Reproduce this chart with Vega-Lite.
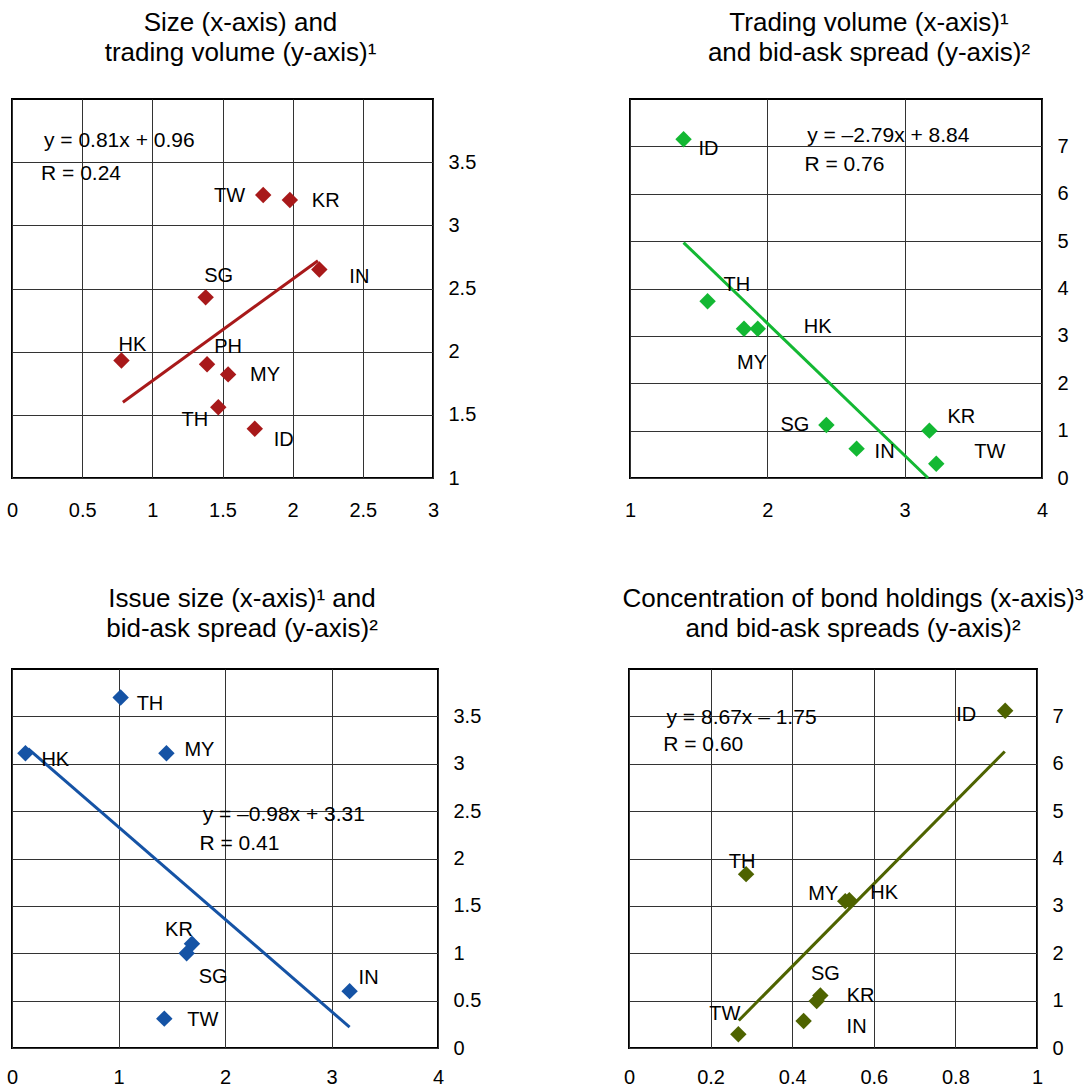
{
  "$schema": "https://vega.github.io/schema/vega-lite/v6.json",
  "padding": {"left": 5, "top": 9, "right": 5, "bottom": 5},
  "spacing": 64,
  "datasets": {
    "p1": [
      {"c": "TW", "x": 1.79, "y": 3.24},
      {"c": "KR", "x": 1.98, "y": 3.2},
      {"c": "IN", "x": 2.19, "y": 2.65},
      {"c": "SG", "x": 1.38, "y": 2.43},
      {"c": "HK", "x": 0.78, "y": 1.93},
      {"c": "PH", "x": 1.39, "y": 1.9},
      {"c": "MY", "x": 1.54, "y": 1.82},
      {"c": "TH", "x": 1.47, "y": 1.56},
      {"c": "ID", "x": 1.73, "y": 1.39}
    ],
    "l1": [{"x": 0.79, "y": 1.6}, {"x": 2.18, "y": 2.72}],
    "a1": [{"t": "y = 0.81x + 0.96", "x": 0.228, "y": 3.67}, {"t": "R = 0.24", "x": 0.207, "y": 3.41}],
    "p2": [
      {"c": "ID", "x": 1.39, "y": 7.15},
      {"c": "TH", "x": 1.565, "y": 3.73},
      {"c": "MY", "x": 1.83, "y": 3.15},
      {"c": "HK", "x": 1.93, "y": 3.15},
      {"c": "SG", "x": 2.43, "y": 1.12},
      {"c": "IN", "x": 2.65, "y": 0.62},
      {"c": "KR", "x": 3.18, "y": 1.0},
      {"c": "TW", "x": 3.23, "y": 0.3}
    ],
    "l2": [{"x": 1.39, "y": 4.97}, {"x": 3.17, "y": 0.0}],
    "a2": [{"t": "y = –2.79x + 8.84", "x": 2.29, "y": 7.21}, {"t": "R = 0.76", "x": 2.27, "y": 6.61}],
    "p3": [
      {"c": "TH", "x": 1.02, "y": 3.7},
      {"c": "HK", "x": 0.126, "y": 3.11},
      {"c": "MY", "x": 1.45, "y": 3.11},
      {"c": "KR", "x": 1.69, "y": 1.1},
      {"c": "SG", "x": 1.64, "y": 1.0},
      {"c": "IN", "x": 3.17, "y": 0.6},
      {"c": "TW", "x": 1.43, "y": 0.31}
    ],
    "l3": [{"x": 0.15, "y": 3.16}, {"x": 3.17, "y": 0.22}],
    "a3": [{"t": "y = –0.98x + 3.31", "x": 1.79, "y": 2.46}, {"t": "R = 0.41", "x": 1.76, "y": 2.15}],
    "p4": [
      {"c": "ID", "x": 0.922, "y": 7.12},
      {"c": "TH", "x": 0.287, "y": 3.67},
      {"c": "MY", "x": 0.53, "y": 3.1},
      {"c": "HK", "x": 0.54, "y": 3.12},
      {"c": "SG", "x": 0.469, "y": 1.11},
      {"c": "KR", "x": 0.46, "y": 0.99},
      {"c": "IN", "x": 0.428, "y": 0.57},
      {"c": "TW", "x": 0.268, "y": 0.29}
    ],
    "l4": [{"x": 0.269, "y": 0.58}, {"x": 0.921, "y": 6.26}],
    "a4": [{"t": "y = 8.67x – 1.75", "x": 0.092, "y": 6.96}, {"t": "R = 0.60", "x": 0.084, "y": 6.4}]
  },
  "config": {
    "font": "Liberation Sans",
    "view": {"stroke": "black", "strokeWidth": 2},
    "text": {"fontSize": 20, "baseline": "middle", "color": "black", "font": "Liberation Sans"},
    "axis": {"domain": false, "ticks": false, "labelFontSize": 20, "labelColor": "black", "labelFont": "Liberation Sans", "gridColor": "#333333", "gridWidth": 1, "gridOpacity": 1, "labelFlush": false, "labelOverlap": false, "format": "~g"},
    "axisX": {"labelPadding": 22},
    "axisY": {"labelPadding": 15},
    "title": {"fontSize": 26, "font": "Liberation Sans", "fontWeight": "normal", "color": "black", "lineHeight": 30, "anchor": "middle", "offset": 33}
  },
  "vconcat": [
    {
      "bounds": "flush",
      "spacing": 197,
      "hconcat": [
        {
          "width": 421, "height": 379,
          "title": {"text": ["Size (x-axis) and", "trading volume (y-axis)¹"], "dx": 18},
          "data": {"name": "p1"},
          "encoding": {
            "x": {"field": "x", "type": "quantitative", "scale": {"domain": [0, 3], "nice": false, "zero": false}, "axis": {"title": null, "format": "~g", "values": [0, 0.5, 1, 1.5, 2, 2.5, 3]}},
            "y": {"field": "y", "type": "quantitative", "scale": {"domain": [1, 4], "nice": false, "zero": false}, "axis": {"title": null, "format": "~g", "orient": "right", "values": [1, 1.5, 2, 2.5, 3, 3.5]}}
          },
          "layer": [
            {"data": {"name": "l1"}, "mark": {"type": "line", "color": "#A8191A", "strokeWidth": 3}},
            {"mark": {"type": "point", "shape": "diamond", "filled": true, "opacity": 1, "size": 270, "color": "#A8191A"}},
            {"transform": [{"filter": "datum.c == 'TW'"}], "mark": {"type": "text", "align": "right", "dx": -18, "dy": 1}, "encoding": {"text": {"field": "c"}}},
            {"transform": [{"filter": {"field": "c", "oneOf": ["KR", "MY"]}}], "mark": {"type": "text", "align": "left", "dx": 22, "dy": 1}, "encoding": {"text": {"field": "c"}}},
            {"transform": [{"filter": "datum.c == 'IN'"}], "mark": {"type": "text", "align": "left", "dx": 30, "dy": 7}, "encoding": {"text": {"field": "c"}}},
            {"transform": [{"filter": "datum.c == 'ID'"}], "mark": {"type": "text", "align": "left", "dx": 19, "dy": 11}, "encoding": {"text": {"field": "c"}}},
            {"transform": [{"filter": "datum.c == 'SG'"}], "mark": {"type": "text", "align": "center", "dx": 13, "dy": -21}, "encoding": {"text": {"field": "c"}}},
            {"transform": [{"filter": "datum.c == 'HK'"}], "mark": {"type": "text", "align": "center", "dx": 11, "dy": -16}, "encoding": {"text": {"field": "c"}}},
            {"transform": [{"filter": "datum.c == 'PH'"}], "mark": {"type": "text", "align": "center", "dx": 21, "dy": -17}, "encoding": {"text": {"field": "c"}}},
            {"transform": [{"filter": "datum.c == 'TH'"}], "mark": {"type": "text", "align": "right", "dx": -10, "dy": 13}, "encoding": {"text": {"field": "c"}}},
            {"data": {"name": "a1"}, "mark": {"type": "text", "align": "left", "fontSize": 21}, "encoding": {"text": {"field": "t"}}}
          ]
        },
        {
          "width": 412, "height": 379,
          "title": {"text": ["Trading volume (x-axis)¹", "and bid-ask spread (y-axis)²"], "dx": 33},
          "data": {"name": "p2"},
          "encoding": {
            "x": {"field": "x", "type": "quantitative", "scale": {"domain": [1, 4], "nice": false, "zero": false}, "axis": {"title": null, "format": "~g", "values": [1, 2, 3, 4]}},
            "y": {"field": "y", "type": "quantitative", "scale": {"domain": [0, 8], "nice": false, "zero": false}, "axis": {"title": null, "format": "~g", "orient": "right", "values": [0, 1, 2, 3, 4, 5, 6, 7]}}
          },
          "layer": [
            {"data": {"name": "l2"}, "mark": {"type": "line", "color": "#13B833", "strokeWidth": 3}},
            {"mark": {"type": "point", "shape": "diamond", "filled": true, "opacity": 1, "size": 270, "color": "#13B833"}},
            {"transform": [{"filter": "datum.c == 'ID'"}], "mark": {"type": "text", "align": "left", "dx": 15, "dy": 10}, "encoding": {"text": {"field": "c"}}},
            {"transform": [{"filter": "datum.c == 'TH'"}], "mark": {"type": "text", "align": "left", "dx": 16, "dy": -16}, "encoding": {"text": {"field": "c"}}},
            {"transform": [{"filter": "datum.c == 'HK'"}], "mark": {"type": "text", "align": "left", "dx": 46, "dy": -2}, "encoding": {"text": {"field": "c"}}},
            {"transform": [{"filter": "datum.c == 'MY'"}], "mark": {"type": "text", "align": "center", "dx": 8, "dy": 34}, "encoding": {"text": {"field": "c"}}},
            {"transform": [{"filter": "datum.c == 'SG'"}], "mark": {"type": "text", "align": "right", "dx": -17, "dy": 0}, "encoding": {"text": {"field": "c"}}},
            {"transform": [{"filter": "datum.c == 'IN'"}], "mark": {"type": "text", "align": "left", "dx": 18, "dy": 3}, "encoding": {"text": {"field": "c"}}},
            {"transform": [{"filter": "datum.c == 'KR'"}], "mark": {"type": "text", "align": "left", "dx": 18, "dy": -14}, "encoding": {"text": {"field": "c"}}},
            {"transform": [{"filter": "datum.c == 'TW'"}], "mark": {"type": "text", "align": "left", "dx": 38, "dy": -12}, "encoding": {"text": {"field": "c"}}},
            {"data": {"name": "a2"}, "mark": {"type": "text", "align": "left", "fontSize": 21}, "encoding": {"text": {"field": "t"}}}
          ]
        }
      ]
    },
    {
      "bounds": "flush",
      "spacing": 191,
      "hconcat": [
        {
          "width": 426, "height": 379,
          "title": {"text": ["Issue size (x-axis)¹ and", "bid-ask spread (y-axis)²"], "dx": 17, "offset": 27},
          "data": {"name": "p3"},
          "encoding": {
            "x": {"field": "x", "type": "quantitative", "scale": {"domain": [0, 4], "nice": false, "zero": false}, "axis": {"title": null, "format": "~g", "labelPadding": 19, "values": [0, 1, 2, 3, 4]}},
            "y": {"field": "y", "type": "quantitative", "scale": {"domain": [0, 4], "nice": false, "zero": false}, "axis": {"title": null, "format": "~g", "orient": "right", "values": [0, 0.5, 1, 1.5, 2, 2.5, 3, 3.5]}}
          },
          "layer": [
            {"data": {"name": "l3"}, "mark": {"type": "line", "color": "#1553A5", "strokeWidth": 3}},
            {"mark": {"type": "point", "shape": "diamond", "filled": true, "opacity": 1, "size": 270, "color": "#1553A5"}},
            {"transform": [{"filter": {"field": "c", "oneOf": ["TH", "HK"]}}], "mark": {"type": "text", "align": "left", "dx": 16, "dy": 7}, "encoding": {"text": {"field": "c"}}},
            {"transform": [{"filter": "datum.c == 'MY'"}], "mark": {"type": "text", "align": "left", "dx": 18, "dy": -3}, "encoding": {"text": {"field": "c"}}},
            {"transform": [{"filter": "datum.c == 'KR'"}], "mark": {"type": "text", "align": "center", "dx": -13, "dy": -14}, "encoding": {"text": {"field": "c"}}},
            {"transform": [{"filter": "datum.c == 'SG'"}], "mark": {"type": "text", "align": "left", "dx": 12, "dy": 24}, "encoding": {"text": {"field": "c"}}},
            {"transform": [{"filter": "datum.c == 'IN'"}], "mark": {"type": "text", "align": "left", "dx": 9, "dy": -13}, "encoding": {"text": {"field": "c"}}},
            {"transform": [{"filter": "datum.c == 'TW'"}], "mark": {"type": "text", "align": "left", "dx": 23, "dy": 1}, "encoding": {"text": {"field": "c"}}},
            {"data": {"name": "a3"}, "mark": {"type": "text", "align": "left", "fontSize": 21}, "encoding": {"text": {"field": "t"}}}
          ]
        },
        {
          "width": 408, "height": 379,
          "title": {"text": ["Concentration of bond holdings (x-axis)³", "and bid-ask spreads (y-axis)²"], "dx": 20, "offset": 27},
          "data": {"name": "p4"},
          "encoding": {
            "x": {"field": "x", "type": "quantitative", "scale": {"domain": [0, 1], "nice": false, "zero": false}, "axis": {"title": null, "format": "~g", "labelPadding": 19, "values": [0, 0.2, 0.4, 0.6, 0.8, 1]}},
            "y": {"field": "y", "type": "quantitative", "scale": {"domain": [0, 8], "nice": false, "zero": false}, "axis": {"title": null, "format": "~g", "orient": "right", "values": [0, 1, 2, 3, 4, 5, 6, 7]}}
          },
          "layer": [
            {"data": {"name": "l4"}, "mark": {"type": "line", "color": "#4E6300", "strokeWidth": 3}},
            {"mark": {"type": "point", "shape": "diamond", "filled": true, "opacity": 1, "size": 270, "color": "#4E6300"}},
            {"transform": [{"filter": "datum.c == 'ID'"}], "mark": {"type": "text", "align": "right", "dx": -29, "dy": 4}, "encoding": {"text": {"field": "c"}}},
            {"transform": [{"filter": "datum.c == 'TH'"}], "mark": {"type": "text", "align": "center", "dx": -4, "dy": -12}, "encoding": {"text": {"field": "c"}}},
            {"transform": [{"filter": "datum.c == 'MY'"}], "mark": {"type": "text", "align": "right", "dx": -7, "dy": -7}, "encoding": {"text": {"field": "c"}}},
            {"transform": [{"filter": "datum.c == 'HK'"}], "mark": {"type": "text", "align": "left", "dx": 21, "dy": -7}, "encoding": {"text": {"field": "c"}}},
            {"transform": [{"filter": "datum.c == 'SG'"}], "mark": {"type": "text", "align": "center", "dx": 5, "dy": -21}, "encoding": {"text": {"field": "c"}}},
            {"transform": [{"filter": "datum.c == 'KR'"}], "mark": {"type": "text", "align": "left", "dx": 30, "dy": -5}, "encoding": {"text": {"field": "c"}}},
            {"transform": [{"filter": "datum.c == 'IN'"}], "mark": {"type": "text", "align": "left", "dx": 43, "dy": 6}, "encoding": {"text": {"field": "c"}}},
            {"transform": [{"filter": "datum.c == 'TW'"}], "mark": {"type": "text", "align": "right", "dx": 2, "dy": -20}, "encoding": {"text": {"field": "c"}}},
            {"data": {"name": "a4"}, "mark": {"type": "text", "align": "left", "fontSize": 21}, "encoding": {"text": {"field": "t"}}}
          ]
        }
      ]
    }
  ]
}
